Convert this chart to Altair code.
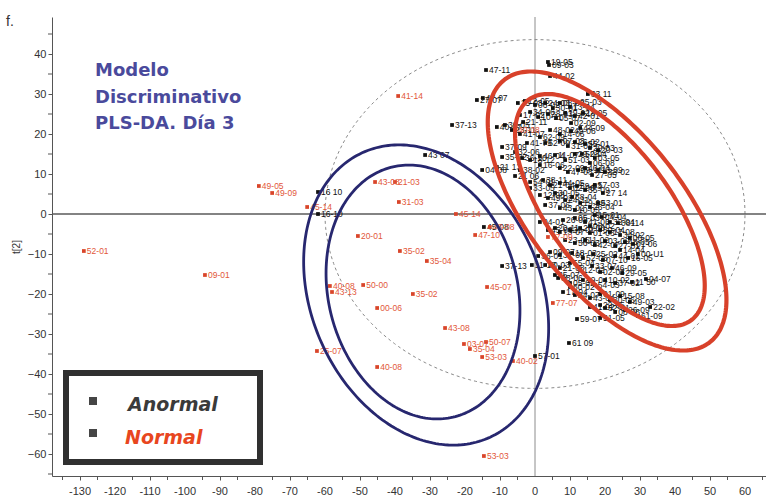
import altair as alt
import numpy as np
import pandas as pd

# ---- axis ranges and ticks -------------------------------------------------
X_DOMAIN = [-138, 66]
Y_DOMAIN = [-65.5, 49.25]
x_label_ticks = list(range(-130, 61, 10))
x_tick_labels = [str(v) for v in x_label_ticks]
x_minor_ticks = list(range(-135, 66, 10))
y_label_ticks = list(range(-60, 41, 10))
y_minor_ticks = list(range(-65, 46, 10))

# ---- scores of the "Normal" class (t[1], t[2]) -----------------------------
normal_id = ["52-01", "09-01", "49-05", "49-09", "45-14", "41-14", "43-08", "21-03",
             "31-03", "45-14", "20-01", "35-02", "35-04", "40-08", "43-13", "50-00",
             "00-06", "35-02", "45-07", "25-07", "40-08", "43-08", "03-07", "35-04",
             "50-07", "53-03", "40-02", "53-03", "47-10", "48-08", "77-07", "40-08",
             "77-09"]
normal_x = [-128.9, -94.3, -78.9, -75.1, -65.1, -39.1, -45.7, -40.0,
            -38.9, -22.6, -50.6, -38.6, -30.9, -58.6, -58.0, -49.1,
            -45.1, -34.9, -13.7, -62.3, -45.1, -25.7, -20.3, -18.6,
            -14.0, -15.1, -6.3, -14.6, -17.1, -12.9, 5.1, -5.7,
            3.7]
normal_y = [-9.25, -15.25, 7.0, 5.25, 1.75, 29.5, 8.0, 8.0,
            3.0, 0.0, -5.5, -9.25, -11.75, -18.0, -19.5, -17.75,
            -23.5, -20.0, -18.25, -34.25, -38.25, -28.5, -32.5, -33.75,
            -32.0, -35.75, -36.75, -60.5, -5.25, -3.25, -22.25, 21.0,
            -5.75]

# ---- scores of the "Anormal" class ----------------------------------------
anormal_id = [
    "47-11", "19-05", "09-03", "44-02", "33 11", "18 05", "02-09", "49-08",
    "29-03", "52-04", "27 14", "26-04", "04-01", "04-04", "08114", "01 06",
    "00-U1", "04-07", "11 50", "22-02", "61-09", "59-07", "61 09", "57-01",
    "37-13", "11-18", "16 10", "16-10", "43 07", "37-13", "04-08", "21 13",
    "27-07", "47-07", "21-11", "40-07", "41-07", "41-79", "37-09", "35-02",
    "21 06", "38-11", "33-05", "59-03", "62-09", "45-08",
    "15-03", "12-05", "06-02", "24-03", "30-01", "08-09", "13-04", "25-03",
    "17-02", "34-06", "10-11", "28-03", "05-07", "19-02", "42-01",
    "39-05", "23-11", "48-02", "44-09", "14-06", "52-09", "07-03", "31-04",
    "26-02", "55-01", "20-03", "32-06", "36-10", "18-12", "46-04", "11-07",
    "51-03", "29-08", "03-05", "38-02", "16-06", "22-09", "47-03", "09-11",
    "40-04", "27-05", "13-09", "33-02", "06-08", "54-01", "21-04", "44-05",
    "02-06", "35-09", "57-03", "12-08", "49-02", "30-05", "24-11", "58-04",
    "19-09", "43-02", "10-05", "37-06", "53-01",
    "26-08", "05-03", "41-06", "15-01", "32-04", "08-02", "45-03", "20-11",
    "13-07", "39-01", "28-06", "01-03", "50-04", "17-08", "34-02", "06-05",
    "23-05", "56-03", "11-02", "42-07", "03-09", "27-01", "48-05", "14-04",
    "36-01", "09-07", "31-09", "18-03", "52-06", "25-02", "07-10", "44-01", "16-05",
    "40-03", "21-08", "55-04", "12-02", "33-07", "02-03", "46-09", "29-05",
    "38-06", "05-09", "19-04", "54-03", "10-02", "37-02",
    "24-07", "43-04", "01-09", "30-06", "15-08", "49-03", "22-05",
    "32-01", "08-06", "26-09", "51-05",
    "60-02", "35-07", "17-04", "41-02",
]
anormal_x = [
    -14.0, 3.7, 4.0, 4.3, 15.1, 13.7, 10.3, 10.3,
    15.7, 13.4, 19.4, 15.7, 1.4, 19.1, 23.7, 28.0,
    29.4, 31.7, 27.7, 32.9, 29.4, 12.0, 9.7, 0.0,
    -9.4, -0.9, -62.0, -62.0, -31.4, -23.7, -15.1, -10.9,
    -16.6, -14.9, -3.4, -10.9, -4.3, -2.3, -9.4, -9.4,
    -5.7, 2.3, -1.4, 12.0, 1.4, -14.6,
    -4.9, -2.9, 0.0, 2.9, 5.1, 7.1, 10.0, 12.0,
    -4.3, -1.4, 0.9, 3.7, 6.0, 8.6, 11.4,
    -8.6, -6.6, 4.3, 12.9, 7.1, 2.9, 7.1, 9.4,
    11.4, 14.3, 18.0, -5.7, -3.7, -1.4, 1.4, 5.7,
    8.6, 11.4, 17.1, -4.3, 1.4, 7.1, 9.4, 12.3,
    14.3, 16.3, 18.0, 20.0, 15.7, -1.4, 4.3, 7.1,
    10.0, 14.3, 17.1, 1.4, 3.7, 5.7, 8.6, 10.6,
    12.9, 7.1, 11.4, 2.9, 18.0,
    8.0, 11.4, 14.3, 17.1, 21.4, 15.7, 3.7, 5.7,
    7.1, 10.0, 12.9, 15.7, 18.6, 21.4, 24.3, 27.1,
    8.6, 11.4, 14.3, 17.1, 20.0, 22.9, 25.7, 24.3,
    0.9, 4.3, 7.1, 10.6, 13.7, 16.6, 19.4, 22.9, 26.6,
    2.9, 7.1, 10.0, 12.9, 16.3, 18.6, 22.0, 24.9,
    6.6, 10.0, 13.7, 17.1, 20.0, 22.9,
    11.4, 15.7, 18.6, 21.4, 24.3, 27.1, 18.6,
    20.0, 22.9, 25.7, 18.6,
    10.0, 5.7, 8.0, 15.7,
]
anormal_y = [
    36.0, 38.0, 37.25, 34.5, 30.0, 25.25, 22.75, 20.75,
    16.5, 15.0, 5.25, 1.75, -2.0, -0.75, -2.25, -7.5,
    -10.0, -16.25, -17.0, -23.25, -25.5, -26.25, -32.25, -35.5,
    -13.0, -12.75, 5.5, 0.0, 14.75, 22.25, 11.0, 11.75,
    28.5, 29.0, 23.0, 21.75, 20.0, 17.75, 16.75, 14.25,
    9.5, 8.5, 6.5, 7.0, 19.25, -3.25,
    27.75, 28.25, 27.25, 27.75, 26.5, 27.75, 26.75, 28.0,
    24.75, 25.5, 24.25, 25.0, 24.0, 25.25, 24.5,
    22.25, 21.0, 21.0, 21.5, 20.0, 17.75, 18.25, 17.0,
    18.0, 17.5, 16.0, 15.5, 14.0, 13.5, 14.5, 14.75,
    13.5, 15.0, 14.0, 11.0, 12.25, 11.5, 10.5, 11.0,
    11.5, 9.75, 11.0, 10.5, 12.75, 8.0, 7.25, 7.75,
    6.5, 6.0, 7.25, 4.75, 4.0, 5.25, 3.5, 4.25,
    2.75, 1.5, 1.0, 2.25, 2.75,
    -1.5, -1.0, -2.0, -0.25, -2.0, -3.0, -4.0, -3.5,
    -4.5, -4.0, -3.5, -4.75, -4.0, -4.5, -5.25, -6.0,
    -6.5, -7.25, -6.5, -7.75, -6.75, -8.0, -7.0, -9.0,
    -10.5, -9.5, -10.25, -9.75, -11.0, -10.0, -11.5, -10.5, -11.0,
    -12.75, -13.5, -12.25, -14.0, -13.0, -14.5, -13.5, -14.75,
    -16.0, -17.25, -16.5, -17.75, -16.5, -17.25,
    -20.25, -21.0, -20.0, -21.5, -20.5, -22.0, -22.75,
    -23.5, -24.5, -24.0, -26.0,
    -18.25, -15.25, -19.5, -23.25,
]
assert len(normal_id) == len(normal_x) == len(normal_y)
assert len(anormal_id) == len(anormal_x) == len(anormal_y)

# ---- class confidence ellipses: centre + two conjugate semi-diameters ------
ell_name = ["anormal_outer", "anormal_inner", "normal_outer", "normal_inner"]
ell_cx = [-31.1, -32.0, 20.6, 21.4]
ell_cy = [-20.25, -19.5, 0.75, 1.0]
ell_ux = [35.0, 27.7, 34.1, 27.1]
ell_uy = [-8.3, -4.65, -22.2, -18.95]
ell_vx = [0.0, 0.0, 0.0, 0.0]
ell_vy = [-36.6, -31.4, -26.9, -21.95]
ell_color = ["#27276f", "#27276f", "#d8412a", "#d8412a"]
ell_width = [2.8, 2.8, 4.2, 4.2]

# Hotelling T2 ellipse (95 %) centred on the origin
t2_rx, t2_ry = 60.0, 43.6

title_lines = ["Modelo", "Discriminativo", "PLS-DA. Día 3"]
legend_labels = ["Anormal", "Normal"]

xs = alt.Scale(domain=X_DOMAIN, nice=False, zero=False)
ys = alt.Scale(domain=Y_DOMAIN, nice=False, zero=False)

FONT = "Liberation Sans"
AXIS_GREY = "#555"


def ellipse_frame(cx, cy, ux, uy, vx, vy, n=241):
    t = np.linspace(0, 2 * np.pi, n)
    return pd.DataFrame({
        "i": np.arange(n),
        "x": cx + ux * np.cos(t) + vx * np.sin(t),
        "y": cy + uy * np.cos(t) + vy * np.sin(t),
    })


# the t[1] tick labels are drawn as a text layer below, so every decade shows
x_axis = alt.Axis(values=x_label_ticks, grid=False, title=None, tickSize=4,
                  labels=False, domainColor=AXIS_GREY, tickColor=AXIS_GREY)
y_axis = alt.Axis(values=y_label_ticks, grid=False, title="t[2]", tickSize=4,
                  format="d", labelOverlap=False,
                  labelFont=FONT, labelFontSize=11, labelColor="#333",
                  labelPadding=2, domainColor=AXIS_GREY, tickColor=AXIS_GREY,
                  titleFont=FONT, titleFontSize=10, titleFontWeight="normal",
                  titleColor="#333", titlePadding=6, labelFlush=False)

# T2 ellipse
t2 = alt.Chart(ellipse_frame(0, 0, t2_rx, 0, 0, t2_ry)).mark_line(
    color="#8a8a8a", strokeWidth=1, strokeDash=[3, 3]
).encode(
    x=alt.X("x:Q", scale=xs, axis=x_axis),
    y=alt.Y("y:Q", scale=ys, axis=y_axis),
    order="i:Q",
)

x_labels = alt.Chart(pd.DataFrame({"v": x_label_ticks, "lab": x_tick_labels})).mark_text(
    font=FONT, fontSize=11, color="#333", baseline="middle", align="center"
).encode(x=alt.X("v:Q", scale=xs), y=alt.value(475), text="lab:N")

# half-step ticks on both axes
x_minor = alt.Chart(pd.DataFrame({"v": x_minor_ticks})).mark_rule(
    color=AXIS_GREY, strokeWidth=1).encode(
    x=alt.X("v:Q", scale=xs), y=alt.value(459), y2=alt.value(463))
y_minor = alt.Chart(pd.DataFrame({"v": y_minor_ticks})).mark_rule(
    color=AXIS_GREY, strokeWidth=1).encode(
    y=alt.Y("v:Q", scale=ys), x=alt.value(-4), x2=alt.value(0))

zero_df = pd.DataFrame({"v": [0]})
vline = alt.Chart(zero_df).mark_rule(color="#8c8c8c", strokeWidth=1).encode(
    x=alt.X("v:Q", scale=xs))
hline = alt.Chart(zero_df).mark_rule(color="#5a5a5a", strokeWidth=1.3).encode(
    y=alt.Y("v:Q", scale=ys))

anormal_df = pd.DataFrame({"id": anormal_id, "x": anormal_x, "y": anormal_y})
normal_df = pd.DataFrame({"id": normal_id, "x": normal_x, "y": normal_y})


def score_layers(df, color, text_color):
    base = alt.Chart(df).encode(x=alt.X("x:Q", scale=xs), y=alt.Y("y:Q", scale=ys))
    pts = base.mark_square(size=14, color=color, opacity=1)
    lbl = base.mark_text(align="left", baseline="middle", dx=3, font=FONT,
                         fontSize=8.5, color=text_color).encode(text="id:N")
    return pts + lbl


anormal_layer = score_layers(anormal_df, "#111111", "#111111")
normal_layer = score_layers(normal_df, "#d9452a", "#e2573a")

ellipse_layers = []
for k in range(len(ell_name)):
    df = ellipse_frame(ell_cx[k], ell_cy[k], ell_ux[k], ell_uy[k], ell_vx[k], ell_vy[k])
    ellipse_layers.append(
        alt.Chart(df).mark_line(color=ell_color[k], strokeWidth=ell_width[k]).encode(
            x=alt.X("x:Q", scale=xs), y=alt.Y("y:Q", scale=ys), order="i:Q")
    )

# ---- annotation: model title ----------------------------------------------
one = pd.DataFrame({"k": [0]})
title_layers = []
for line, py in zip(title_lines, [54, 81, 107]):
    title_layers.append(
        alt.Chart(one).mark_text(text=line, align="left", baseline="middle",
                                 font="DejaVu Sans", fontWeight="bold",
                                 fontSize=18, color="#4a4a9c")
        .encode(x=alt.value(43), y=alt.value(py))
    )

# ---- class legend box -------------------------------------------------------
legend_box = alt.Chart(one).mark_rect(fill="white", stroke="#303030", strokeWidth=6).encode(
    x=alt.value(14), x2=alt.value(208), y=alt.value(356), y2=alt.value(445))
legend_sym = [
    alt.Chart(one).mark_square(size=64, color="#454545", opacity=1).encode(
        x=alt.value(41), y=alt.value(py))
    for py in (384, 416)
]
legend_txt = [
    alt.Chart(one).mark_text(text=legend_labels[0], align="left", baseline="middle",
                             font="DejaVu Sans", fontWeight="bold", fontStyle="italic",
                             fontSize=19, color="#3a3a3a").encode(x=alt.value(76), y=alt.value(388)),
    alt.Chart(one).mark_text(text=legend_labels[1], align="left", baseline="middle",
                             font="DejaVu Sans", fontWeight="bold", fontStyle="italic",
                             fontSize=19, color="#e8461e").encode(x=alt.value(73), y=alt.value(421)),
]

corner = alt.Chart(one).mark_text(text="f.", align="left", baseline="middle",
                                  font=FONT, fontSize=14, color="#333").encode(
    x=alt.value(-46), y=alt.value(5))

chart = alt.layer(
    t2, x_minor, y_minor, x_labels, vline, hline,
    anormal_layer, normal_layer,
    *ellipse_layers,
    *title_layers,
    legend_box, *legend_sym, *legend_txt,
    corner,
).properties(
    width=714,
    height=459,
    padding={"left": 52, "top": 17, "right": 0, "bottom": 24},
    autosize=alt.AutoSizeParams(type="none"),
    background="white",
).configure_view(strokeWidth=0)

chart.save("out.html", embed_options={"renderer": "svg", "actions": False})
